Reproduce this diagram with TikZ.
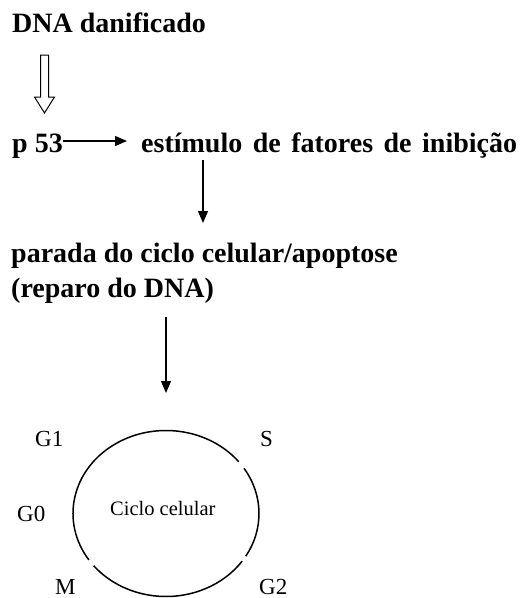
\documentclass[tikz,border=0pt]{standalone}
\usepackage{fontspec}
\setmainfont{Liberation Serif}
\usetikzlibrary{arrows.meta}
\begin{document}
\begin{tikzpicture}[x=1pt,y=-1pt,
  lbl/.style={inner sep=0pt,anchor=base west,font=\fontsize{28}{35}\selectfont\bfseries},
  sm/.style={inner sep=0pt,anchor=base west,font=\fontsize{23}{26}\selectfont},
  arr/.style={line width=1.3pt,-{Triangle[length=12pt,width=10pt]}},
  ring/.style={line width=1.5pt}]
\useasboundingbox (0,0) rectangle (524,598);
\node[lbl] (dna) at (12,32) {DNA danificado};
\node[lbl] (p53) at (12,152) {p 53};
\node[lbl] (est) at (141,152) {\spaceskip=10.5pt estímulo de fatores de inibição};
\node[lbl,align=left,anchor=north west] (par) at (11,242.5) {parada do ciclo celular/apoptose\\(reparo do DNA)};
\coordinate (ha) at (44.5,55);
\draw[line width=1pt] (ha) ++(-4,0) -- ++(0,42) -- ++(-6,0) -- ++(10,16) -- ++(10,-16) -- ++(-6,0) -- ++(0,-42) -- cycle;
\coordinate (pa) at (63,141);
\coordinate (pb) at (127,141);
\draw[arr] (pa) -- (pb);
\coordinate (ea) at (203,160);
\coordinate (eb) at (203,223);
\draw[arr] (ea) -- (eb);
\coordinate (ra) at (166,317);
\coordinate (rb) at (166,393);
\draw[arr] (ra) -- (rb);
\coordinate (c) at (166,513.5);
\draw[ring] (c) ++(-33:93 and 83) arc[start angle=-33,end angle=31,x radius=93,y radius=83];
\draw[ring] (c) ++(35:93 and 83) arc[start angle=35,end angle=141,x radius=93,y radius=83];
\draw[ring] (c) ++(146:93 and 83) arc[start angle=146,end angle=321.5,x radius=93,y radius=83];
\node[sm,font=\fontsize{20.5}{24}\selectfont] (cc) at (110,515) {Ciclo celular};
\node[sm] (g1) at (35,446) {G1};
\node[sm] (s) at (260,446) {S};
\node[sm] (g0) at (17,521) {G0};
\node[sm] (m) at (55,594) {M};
\node[sm] (g2) at (259,594) {G2};
\end{tikzpicture}
\end{document}
